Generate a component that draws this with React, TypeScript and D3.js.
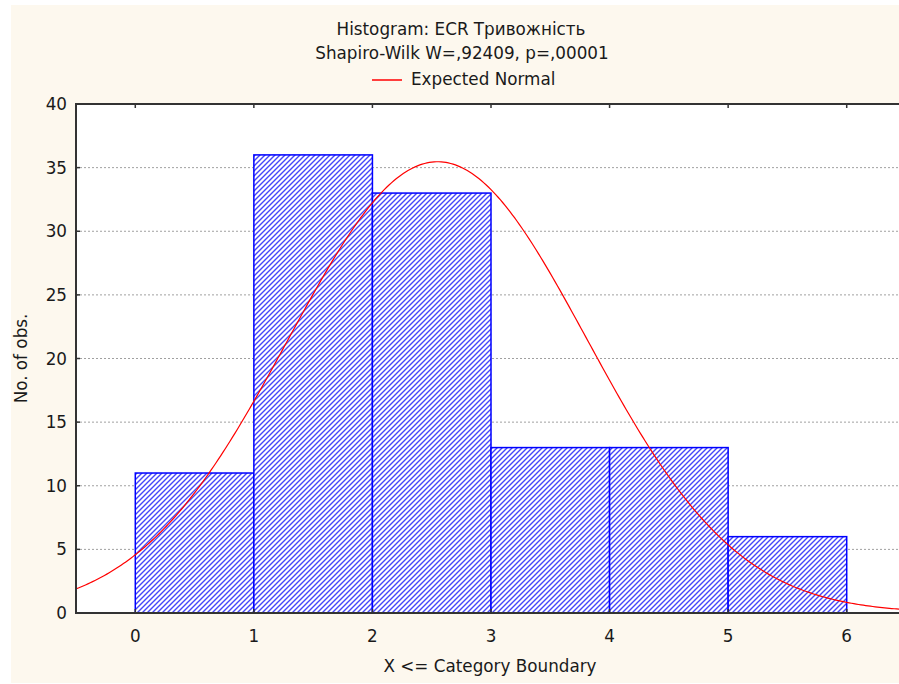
import React from 'react';
import * as d3 from 'd3';

const binStarts = [0, 1, 2, 3, 4, 5];
const counts = [11, 36, 33, 13, 13, 6];
const yTicks = [0, 5, 10, 15, 20, 25, 30, 35, 40];
const xTicks = [0, 1, 2, 3, 4, 5, 6];
const normalMean = 2.55;
const normalSd = 1.26;
const binWidth = 1;

const W = 899, H = 684;
const M = { left: 76, right: 906, top: 104, bottom: 613 };
const FONT = '"DejaVu Sans", sans-serif';
const FS = 16.8;

export default function App() {
  const x = d3.scaleLinear().domain([-0.5, 6.5]).range([M.left, M.right]);
  const y = d3.scaleLinear().domain([0, 40]).range([M.bottom, M.top]);
  const total = d3.sum(counts);
  const pdf = (v: number) =>
    (total * binWidth) / (normalSd * Math.sqrt(2 * Math.PI)) *
    Math.exp(-0.5 * ((v - normalMean) / normalSd) ** 2);
  const pts = d3.range(-0.5, 6.5001, 0.02).map((v) => [v, pdf(v)] as [number, number]);
  const line = d3.line<[number, number]>().x((d) => x(d[0])).y((d) => y(d[1]));

  return (
    <svg width={W} height={H} style={{ position: 'absolute', left: 0, top: 0, fontFamily: FONT }}>
      <defs>
        <pattern id="hatch" patternUnits="userSpaceOnUse" width={5} height={5}>
          <rect width={5} height={5} fill="#ffffff" />
          <path d="M-1,1 l2,-2 M0,5 l5,-5 M4,6 l2,-2" stroke="#4545fa" strokeWidth={1.4} />
        </pattern>
        <clipPath id="plot">
          <rect x={M.left} y={M.top} width={M.right - M.left} height={M.bottom - M.top} />
        </clipPath>
      </defs>
      <rect width={W} height={H} fill="#ffffff" />
      <rect x={11} y={5} width={W - 11} height={678} fill="#fdf8ee" />
      <rect x={M.left} y={M.top} width={M.right - M.left} height={M.bottom - M.top} fill="#ffffff" />
      {yTicks.filter((t) => t > 0 && t < 40).map((t) => (
        <line key={t} x1={M.left} x2={M.right} y1={y(t)} y2={y(t)} stroke="#a0a0a0" strokeWidth={1} strokeDasharray="2,2" />
      ))}
      {binStarts.map((b, i) => (
        <rect key={b} x={x(b)} y={y(counts[i])} width={x(b + binWidth) - x(b)} height={y(0) - y(counts[i])}
          fill="url(#hatch)" stroke="#0000ff" strokeWidth={1.5} />
      ))}
      <path d={line(pts) || ''} fill="none" stroke="#ff0000" strokeWidth={1.2} clipPath="url(#plot)" />
      <rect x={M.left} y={M.top} width={M.right - M.left} height={M.bottom - M.top} fill="none" stroke="#333333" strokeWidth={2} />
      {yTicks.map((t) => (
        <g key={t}>
          <line x1={M.left} x2={M.left + 4} y1={y(t)} y2={y(t)} stroke="#333" strokeWidth={1.5} />
          <text x={67} y={y(t)} dy="0.36em" textAnchor="end" fontSize={FS} fill="#1a1a1a">{t}</text>
        </g>
      ))}
      {xTicks.map((t) => (
        <g key={t}>
          <line x1={x(t)} x2={x(t)} y1={M.top} y2={M.top + 4} stroke="#333" strokeWidth={1.5} />
          <line x1={x(t)} x2={x(t)} y1={M.bottom} y2={M.bottom - 4} stroke="#333" strokeWidth={1.5} />
          <text x={x(t)} y={642} textAnchor="middle" fontSize={FS} fill="#1a1a1a">{t}</text>
        </g>
      ))}
      <text x={461} y={35} textAnchor="middle" fontSize={FS} fill="#1a1a1a">Histogram: ECR Тривожність</text>
      <text x={462} y={59} textAnchor="middle" fontSize={FS} fill="#1a1a1a">Shapiro-Wilk W=,92409, p=,00001</text>
      <line x1={372} x2={402} y1={80} y2={80} stroke="#ff0000" strokeWidth={1.5} />
      <text x={411} y={85} fontSize={FS} fill="#1a1a1a">Expected Normal</text>
      <text x={490} y={672} textAnchor="middle" fontSize={FS} fill="#1a1a1a">X &lt;= Category Boundary</text>
      <text transform={`translate(27,${(M.top + M.bottom) / 2}) rotate(-90)`} textAnchor="middle" fontSize={FS} fill="#1a1a1a">No. of obs.</text>
    </svg>
  );
}
